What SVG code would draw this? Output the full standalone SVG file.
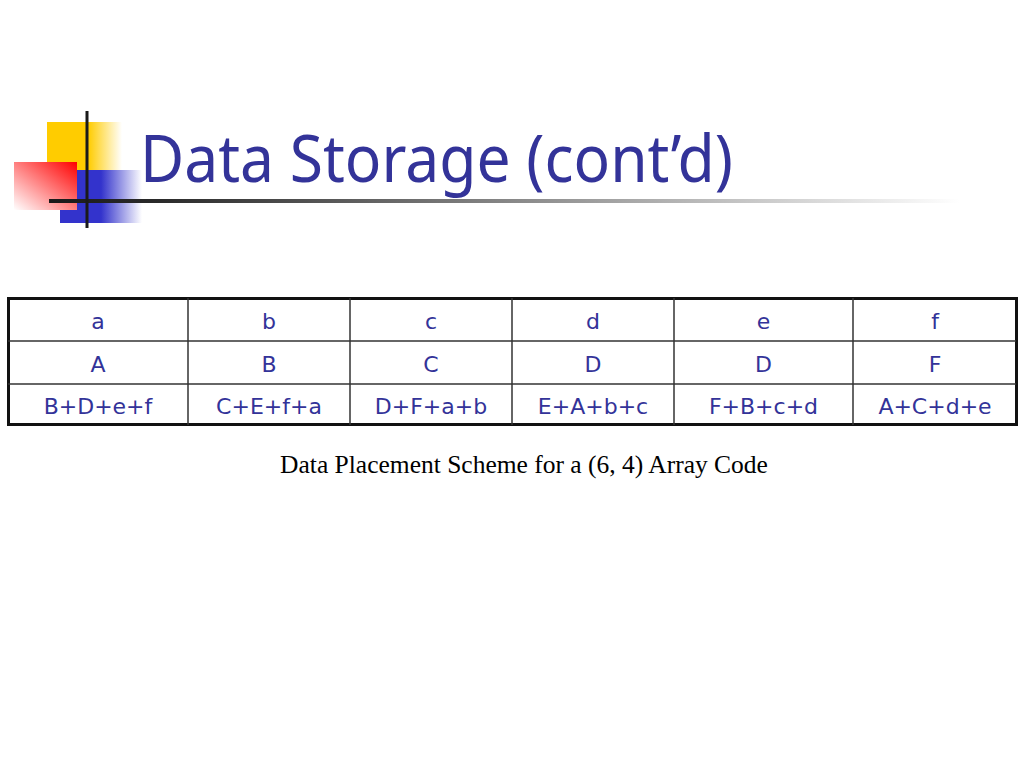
<svg xmlns="http://www.w3.org/2000/svg" width="1024" height="768" viewBox="0 0 1024 768">
<defs>
<linearGradient id="gy" x1="0" y1="0" x2="1" y2="0">
<stop offset="0" stop-color="#ffcc00"/>
<stop offset="0.55" stop-color="#ffcc00"/>
<stop offset="1" stop-color="#ffcc00" stop-opacity="0"/>
</linearGradient>
<linearGradient id="gb" x1="0" y1="0" x2="1" y2="0">
<stop offset="0" stop-color="#3333cc"/>
<stop offset="0.5" stop-color="#3333cc"/>
<stop offset="1" stop-color="#3333cc" stop-opacity="0"/>
</linearGradient>
<linearGradient id="gr" x1="1" y1="0" x2="0" y2="1">
<stop offset="0" stop-color="#ff0000"/>
<stop offset="1" stop-color="#ffffff"/>
</linearGradient>
<linearGradient id="gl" x1="0" y1="0" x2="1" y2="0">
<stop offset="0" stop-color="#1a1a1a"/>
<stop offset="0.12" stop-color="#2a2a2a"/>
<stop offset="1" stop-color="#ffffff"/>
</linearGradient>
<style>
.cell{font-family:"DejaVu Sans",Verdana,sans-serif;font-size:22px;fill:#333399;text-anchor:middle}
.grid{stroke:#333;stroke-width:1.5;fill:none}
</style>
</defs>
<rect width="1024" height="768" fill="#fff"/>
<g id="logo">
<rect x="47" y="122" width="75" height="48" fill="url(#gy)"/>
<rect x="60" y="170" width="82" height="53" fill="url(#gb)"/>
<rect x="14" y="162" width="63" height="48" fill="url(#gr)"/>
<rect x="49" y="199" width="911" height="4" fill="url(#gl)"/>
<rect x="85.5" y="111" width="3" height="117" fill="#1a1a1a"/>
</g>
<g id="title">
<text x="140" y="182" font-family="Noto Sans,DejaVu Sans,sans-serif" font-size="65" fill="#333399" textLength="593" lengthAdjust="spacingAndGlyphs">Data Storage (cont’d)</text>
</g>
<g id="table">
<rect x="8.5" y="298.5" width="1008" height="126" fill="#fff" stroke="#111" stroke-width="3"/>
<g class="grid">
<line x1="8" y1="341" x2="1016" y2="341"/>
<line x1="8" y1="384" x2="1016" y2="384"/>
<line x1="188" y1="298" x2="188" y2="425"/>
<line x1="350" y1="298" x2="350" y2="425"/>
<line x1="512" y1="298" x2="512" y2="425"/>
<line x1="674" y1="298" x2="674" y2="425"/>
<line x1="853" y1="298" x2="853" y2="425"/>
</g>
<g class="cell">
<text x="98" y="329">a</text>
<text x="269" y="329">b</text>
<text x="431" y="329">c</text>
<text x="593" y="329">d</text>
<text x="763.5" y="329">e</text>
<text x="935" y="329">f</text>
<text x="98" y="372">A</text>
<text x="269" y="372">B</text>
<text x="431" y="372">C</text>
<text x="593" y="372">D</text>
<text x="763.5" y="372">D</text>
<text x="935" y="372">F</text>
<text x="98" y="414">B+D+e+f</text>
<text x="269" y="414">C+E+f+a</text>
<text x="431" y="414">D+F+a+b</text>
<text x="593" y="414">E+A+b+c</text>
<text x="763.5" y="414">F+B+c+d</text>
<text x="935" y="414">A+C+d+e</text>
</g>
</g>
<g id="caption">
<text x="524" y="473" font-family="Liberation Serif,Times New Roman,serif" font-size="25.5" fill="#000" text-anchor="middle">Data Placement Scheme for a (6, 4) Array Code</text>
</g>
</svg>
